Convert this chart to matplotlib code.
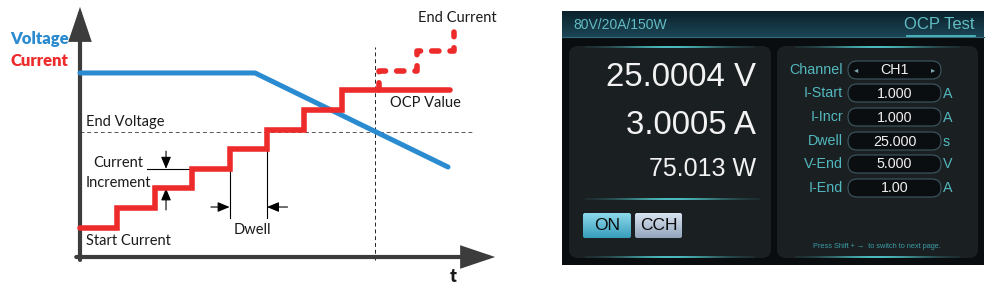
import numpy as np
import matplotlib.pyplot as plt
from matplotlib.patches import FancyBboxPatch, Rectangle
from matplotlib.collections import LineCollection

# ---------------------------------------------------------------------------
# Diagram data (time in dwell units, current in increment units)
# ---------------------------------------------------------------------------
step_times = [0, 1, 2, 3, 4, 5, 6, 7, 9.9]
step_levels = [1.5, 2.5, 3.5, 4.5, 5.5, 6.5, 7.5, 8.5]

ext_times = [8.0, 9.0, 10.0]
ext_levels = [8.5, 9.5, 10.5, 11.5]

volt_t = [0, 4.68, 9.84]
volt_v = [9.39, 9.39, 4.59]

end_voltage = 6.38
ocp_time = 7.9

# Screen data
readings = ["25.0004 V", "3.0005 A", "75.013 W"]
param_names = ["Channel", "I-Start", "I-Incr", "Dwell", "V-End", "I-End"]
param_values = ["CH1", "1.000", "1.000", "25.000", "5.000", "1.00"]
param_units = ["", "A", "A", "s", "V", "A"]

DIAG_FONT = "Lato"
SCREEN_FONT = "Liberation Sans"
RED = "#ee2b2b"
BLUE = "#2a8bd0"
AXIS = "#3c3c3c"
TEAL = "#52b9bf"

W, H = 995, 293
fig = plt.figure(figsize=(W / 100, H / 100), dpi=100)
fig.patch.set_facecolor("white")

# ---------------------------------------------------------------------------
# Left diagram: origin at pixel (80, 257), 37.4 px per dwell, 19.6 px per step
# ---------------------------------------------------------------------------
x0, y0, sx, sy = 80.0, 257.0, 37.4, 19.6
xlim = (-0.5, 11.3)
ylim = (-1.8, 12.9)
left_px = x0 + xlim[0] * sx
right_px = x0 + xlim[1] * sx
bot_px = y0 - ylim[0] * sy
top_px = y0 - ylim[1] * sy
ax = fig.add_axes([left_px / W, 1 - bot_px / H, (right_px - left_px) / W, (bot_px - top_px) / H])
ax.set_xlim(*xlim)
ax.set_ylim(*ylim)
ax.axis("off")

# axes with arrows
arrow_kw = dict(arrowstyle="-|>,head_length=0.95,head_width=0.32", lw=3.0, color=AXIS,
                mutation_scale=20, shrinkA=0, shrinkB=0, joinstyle="miter")
ax.annotate("", xy=(0, 12.76), xytext=(0, -0.15), arrowprops=arrow_kw, annotation_clip=False)
ax.annotate("", xy=(11.1, 0), xytext=(-0.1, 0), arrowprops=arrow_kw, annotation_clip=False)

# end voltage and OCP time reference lines
ax.plot([0, 10.5], [end_voltage, end_voltage], color="#555555", lw=0.7, ls=(0, (4, 3)), zorder=1)
ax.plot([ocp_time, ocp_time], [-0.15, 10.7], color="#222222", lw=0.7, ls=(0, (4, 3)), zorder=1)

# voltage
ax.plot(volt_t, volt_v, color=BLUE, lw=3.6, solid_capstyle="round", zorder=3)

# current staircase
ax.step(step_times, step_levels + [step_levels[-1]], where="post", color=RED, lw=4.0,
        solid_capstyle="round", solid_joinstyle="miter", zorder=4)

# extension past OCP (dashed)
ex = [ext_times[0]]
ey = [step_levels[-1]]
for i, t in enumerate(ext_times):
    ex += [t, ext_times[i + 1] if i + 1 < len(ext_times) else t]
    ey += [ext_levels[i + 1], ext_levels[i + 1]]
ax.plot(ex[:-1], ey[:-1], color=RED, lw=4.0, ls=(0, (1.3, 2.0)), dash_capstyle="round", zorder=4)

# current increment annotation
thin = dict(color="black", lw=0.8)
ax.plot([1.79, 3.05], [4.5, 4.5], **thin)
ax.plot([1.95, 3.0], [3.5, 3.5], **thin)
small_arrow = dict(arrowstyle="-|>,head_length=0.6,head_width=0.25", lw=0.8, color="black",
                   mutation_scale=12, shrinkA=0, shrinkB=0)
ax.annotate("", xy=(2.3, 4.5), xytext=(2.3, 5.4), arrowprops=small_arrow)
ax.annotate("", xy=(2.3, 3.5), xytext=(2.3, 2.4), arrowprops=small_arrow)

# dwell annotation
ax.plot([4, 4], [2.0, 4.5], **thin)
ax.plot([5, 5], [2.0, 5.5], **thin)
ax.annotate("", xy=(4, 2.55), xytext=(3.5, 2.55), arrowprops=small_arrow)
ax.annotate("", xy=(5, 2.55), xytext=(5.55, 2.55), arrowprops=small_arrow)

tk = dict(family=DIAG_FONT, fontsize=10.5, color="#1a1a1a")
ax.text(0.15, 6.9, "End Voltage", ha="left", va="center", **tk)
ax.text(0.35, 4.8, "Current", ha="left", va="center", **tk)
ax.text(0.14, 3.78, "Increment", ha="left", va="center", **tk)
ax.text(0.15, 0.8, "Start Current", ha="left", va="center", **tk)
ax.text(4.6, 1.37, "Dwell", ha="center", va="center", **tk)
ax.text(8.3, 7.88, "OCP Value", ha="left", va="center", **tk)
ax.text(11.15, 12.2, "End Current", ha="right", va="center", **tk)
ax.text(9.97, -1.0, "t", ha="center", va="center", family=DIAG_FONT, fontsize=13,
        fontweight="heavy", color="#1a1a1a")
ax.text(-0.3, 11.1, "Voltage", ha="right", va="center", family=DIAG_FONT, fontsize=12,
        fontweight="heavy", color=BLUE)
ax.text(-0.3, 9.98, "Current", ha="right", va="center", family=DIAG_FONT, fontsize=12,
        fontweight="heavy", color=RED)

# ---------------------------------------------------------------------------
# Right: instrument screen, drawn in pixel coordinates
# ---------------------------------------------------------------------------
sa = fig.add_axes([560 / W, 0, (W - 560) / W, 1])
sa.set_xlim(560, W)
sa.set_ylim(H, 0)
sa.axis("off")

sa.add_patch(Rectangle((562, 11), 422, 254, facecolor="#0a0d0f", edgecolor="none", zorder=0))

# header gradient
grad = np.linspace(0, 1, 50).reshape(-1, 1)
top_c = np.array([0.04, 0.13, 0.17])
bot_c = np.array([0.11, 0.27, 0.33])
img = top_c + (bot_c - top_c) * grad[..., None]
img = np.repeat(img, 2, axis=1)
sa.imshow(img, extent=(562, 984, 37, 11), aspect="auto", zorder=1)
sa.plot([562, 984], [37, 37], color="#2f6e7a", lw=0.8, zorder=2)
sa.text(573, 25, "80V/20A/150W", family=SCREEN_FONT, fontsize=10, color="#62bcc4",
        ha="left", va="center", zorder=3)
sa.text(975, 24.5, "OCP Test", family=SCREEN_FONT, fontsize=12, color="#62bcc4",
        ha="right", va="center", zorder=3)
sa.plot([907, 975], [36, 36], color="#4fb8c2", lw=1.3, zorder=3)

# panels
for px, pw in [(569, 202), (777, 201)]:
    sa.add_patch(FancyBboxPatch((px, 46), pw, 212, boxstyle="round,pad=0,rounding_size=9",
                                facecolor="#1a1f22", edgecolor="none", zorder=1))


def glow(xa, xb, y, width=1.4):
    xs = np.linspace(xa, xb, 80)
    segs = [[(xs[i], y), (xs[i + 1], y)] for i in range(len(xs) - 1)]
    mid = (xs[:-1] + xs[1:]) / 2
    a = np.exp(-((mid - (xa + xb) / 2) / ((xb - xa) / 3.2)) ** 2)
    cols = [(0.30, 0.75, 0.76, float(v)) for v in a]
    sa.add_collection(LineCollection(segs, colors=cols, linewidths=width, zorder=2))


glow(585, 755, 47)
glow(585, 755, 257)
glow(585, 760, 199)
glow(795, 960, 47)
glow(795, 960, 257)

# readings
for txt, y, fs in zip(readings, [77, 126, 169], [23.8, 23.8, 18]):
    sa.text(756, y, txt, family=SCREEN_FONT, fontsize=fs, color="#f2f2f2",
            ha="right", va="center", zorder=3)

# buttons
def button(x, y, w, h, c_top, c_bot, label):
    g = np.linspace(0, 1, 30).reshape(-1, 1, 1)
    im = np.array(c_top) + (np.array(c_bot) - np.array(c_top)) * g
    im = np.repeat(im, 2, axis=1)
    art = sa.imshow(im, extent=(x, x + w, y + h, y), aspect="auto", zorder=3)
    clip = FancyBboxPatch((x, y), w, h, boxstyle="round,pad=0,rounding_size=2",
                          facecolor="none", edgecolor="none", transform=sa.transData)
    sa.add_patch(clip)
    art.set_clip_path(clip)
    sa.text(x + w / 2, y + h / 2 + 0.5, label, family=SCREEN_FONT, fontsize=12.5,
            color="#0a0a0a", ha="center", va="center", zorder=4)


button(583, 213, 48, 25, (0.55, 0.85, 0.92), (0.22, 0.62, 0.74), "ON")
button(635, 213, 47, 25, (0.85, 0.89, 0.94), (0.58, 0.65, 0.74), "CCH")

# parameter rows
row_y = [70, 93, 117, 141, 164, 188]
for name, val, unit, y in zip(param_names, param_values, param_units, row_y):
    sa.text(843, y, name, family=SCREEN_FONT, fontsize=10.3, color=TEAL,
            ha="right", va="center", zorder=3)
    sa.add_patch(FancyBboxPatch((848, y - 9), 93, 18, boxstyle="round,pad=0,rounding_size=9",
                                facecolor="#0b0e10", edgecolor="#3e5962", lw=0.8, zorder=3))
    sa.text(894.5, y + 0.5, val, family=SCREEN_FONT, fontsize=10.3, color="#f0f0f0",
            ha="center", va="center", zorder=4)
    if unit:
        sa.text(943, y + 0.5, unit, family=SCREEN_FONT, fontsize=10.3, color=TEAL,
                ha="left", va="center", zorder=3)
    else:
        sa.text(856, y, "\u25c2", family="DejaVu Sans", fontsize=6, color="#7fa8b0",
                ha="center", va="center", zorder=4)
        sa.text(933, y, "\u25b8", family="DejaVu Sans", fontsize=6, color="#7fa8b0",
                ha="center", va="center", zorder=4)

sa.text(877, 246.5, "Press Shift + \u2192  to switch to next page.", family=["Liberation Sans", "DejaVu Sans"],
        fontsize=5.3, color="#3a9ea6", ha="center", va="center", zorder=3)

fig.savefig("out.png", dpi=100)
